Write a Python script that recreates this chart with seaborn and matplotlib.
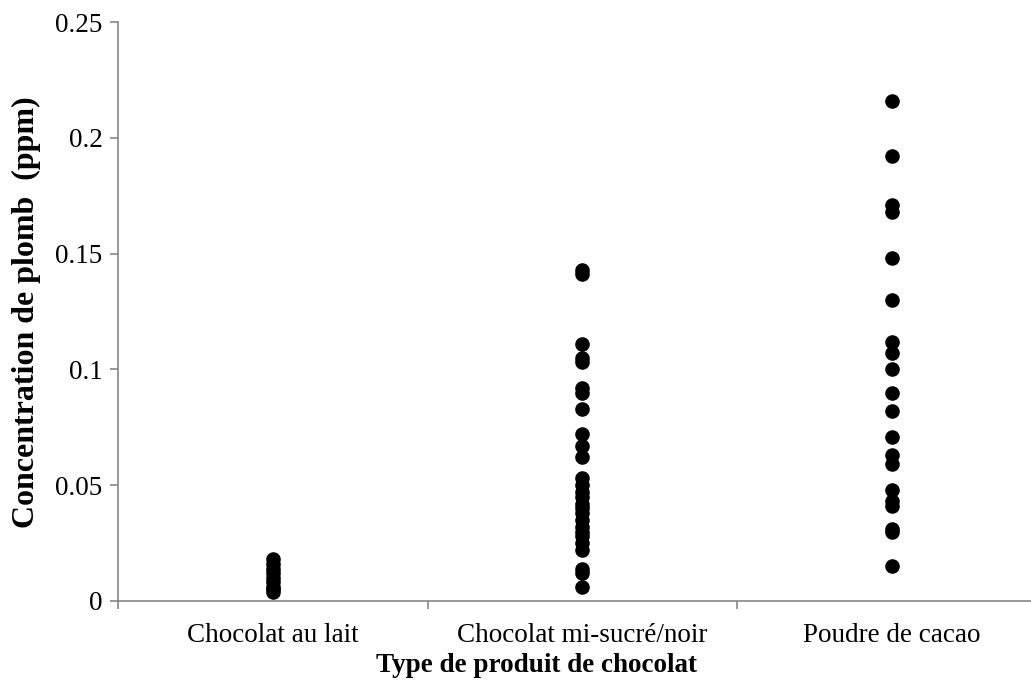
import pandas as pd
import matplotlib
matplotlib.use("Agg")
import matplotlib.pyplot as plt
import seaborn as sns

categories = ["Chocolat au lait", "Chocolat mi-sucré/noir", "Poudre de cacao"]

lait = [0.018, 0.016, 0.014, 0.012, 0.010, 0.008, 0.006, 0.005, 0.004]
noir = [0.143, 0.141, 0.111, 0.105, 0.103, 0.092, 0.090, 0.083, 0.072, 0.067,
        0.062, 0.053, 0.050, 0.047, 0.045, 0.042, 0.040, 0.038, 0.035, 0.032,
        0.030, 0.028, 0.025, 0.022, 0.014, 0.012, 0.006]
cacao = [0.216, 0.192, 0.171, 0.168, 0.148, 0.130, 0.112, 0.107, 0.100, 0.090,
         0.082, 0.071, 0.063, 0.059, 0.048, 0.043, 0.041, 0.031, 0.030, 0.015]

df = pd.DataFrame({
    "type": [categories[0]] * len(lait) + [categories[1]] * len(noir) + [categories[2]] * len(cacao),
    "plomb": lait + noir + cacao,
})

sns.set_style("white")
plt.rcParams["font.family"] = ["Liberation Serif", "DejaVu Serif"]
plt.rcParams["text.color"] = "black"

fig = plt.figure(figsize=(10.31, 6.84), dpi=100)
ax = fig.add_axes([118 / 1031, 1 - 601 / 684, 913 / 1031, 579 / 684])

sns.stripplot(data=df, x="type", y="plomb", order=categories, jitter=False,
              color="black", size=10.5, linewidth=0, ax=ax)

ax.set_yticks([0, 0.05, 0.1, 0.15, 0.2, 0.25])
ax.set_yticklabels(["0", "0.05", "0.1", "0.15", "0.2", "0.25"])
ax.set_ylim(0, 0.25)

# category boundaries as tick marks, labels in the middle
ax.set_xticks([-0.5, 0.5, 1.5])
ax.set_xticklabels([])
ax.set_xticks([0, 1, 2], minor=True)
ax.set_xticklabels(categories, minor=True)
ax.set_xlim(-0.5, -0.5 + 913 / 309.5)
ax.tick_params(axis="x", which="minor", bottom=False, pad=14, labelsize=19.5,
               labelcolor="black")
ax.tick_params(axis="x", which="major", bottom=True, direction="out", length=6,
               width=1.2, color="#868686")
ax.tick_params(axis="y", left=True, direction="out", length=6, width=1.2,
               color="#868686", labelsize=19.5, pad=5, labelcolor="black")

for side in ["top", "right"]:
    ax.spines[side].set_visible(False)
for side in ["left", "bottom"]:
    ax.spines[side].set_color("#868686")
    ax.spines[side].set_linewidth(1.2)

ax.set_xlabel("")
ax.set_ylabel("")
ax.grid(False)
fig.text(536 / 1031, 1 - 665 / 684, "Type de produit de chocolat", fontsize=19.5,
         fontweight="bold", ha="center", va="center", color="black")
fig.text(26 / 1031, 1 - 312 / 684, "Concentration de plomb  (ppm)", fontsize=23,
         fontweight="bold", ha="center", va="center", rotation=90, color="black")

fig.savefig("out.png", dpi=100)
